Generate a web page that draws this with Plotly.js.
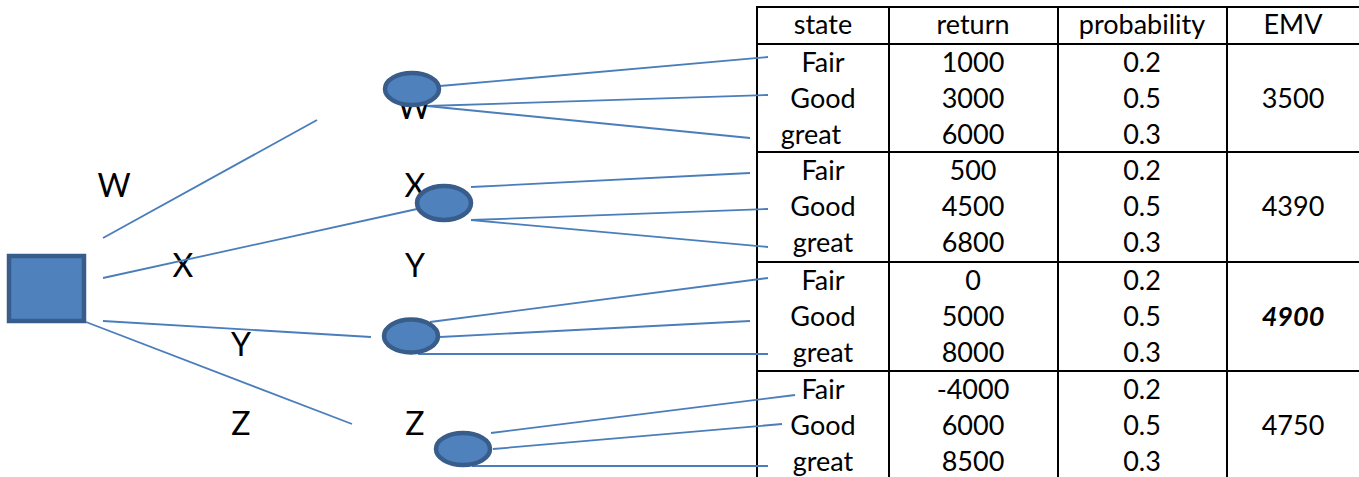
<!DOCTYPE html>
<html>
<head>
<meta charset="utf-8">
<script src="https://cdn.plot.ly/plotly-3.0.1.min.js"></script>
<style>html,body{margin:0;padding:0;background:#fff;}#chart{width:1359px;height:477px;}</style>
</head>
<body>
<div id="chart"></div>
<script>
// ---- data ----
const options = ['W', 'X', 'Y', 'Z'];
const states = ['Fair', 'Good', 'great'];
const headers = ['state', 'return', 'probability', 'EMV'];
const returnsW = [1000, 3000, 6000];
const returnsX = [500, 4500, 6800];
const returnsY = [0, 5000, 8000];
const returnsZ = [-4000, 6000, 8500];
const probabilities = [0.2, 0.5, 0.3];
const emv = [3500, 4390, 4900, 4750];
const bestOption = 'Y';

// ---- geometry (pixel space of the 1359x477 canvas) ----
const returnsAll = [returnsW, returnsX, returnsY, returnsZ];
const colX = [757, 889, 1058, 1227, 1359];
const colCenter = [823, 973, 1142, 1293];
const rowLines = [7, 44, 152, 262, 371, 477];
const groupTop = [44, 152, 262, 371];
const rowPitch = 36;
const textDrop = 21;

const decision = {x0: 9, x1: 84, y0: 256, y1: 321};
const chance = [
  {cx: 412, cy: 89, rx: 27, ry: 16},
  {cx: 444, cy: 203, rx: 27, ry: 17},
  {cx: 411, cy: 336, rx: 27, ry: 16.5},
  {cx: 463, cy: 449, rx: 27, ry: 16}
];
// first-stage branches [x0,y0,x1,y1]
const branch1 = [
  [103, 238, 317, 120],
  [103, 278, 417, 209],
  [103, 321, 371, 337],
  [86, 322, 352, 424]
];
// second-stage branches per option: [x0,y0,x1,y1] for Fair, Good, great
const branch2 = [
  [[440, 86, 768, 57], [427, 106, 768, 95], [427, 106, 750, 138]],
  [[471, 187, 750, 173], [471, 220, 768, 209], [471, 220, 768, 247]],
  [[430, 322, 768, 278], [440, 337, 750, 321], [418, 354, 768, 354]],
  [[491, 433, 795, 395], [493, 449, 782, 424], [472, 466, 768, 466]]
];
const labels1 = [[114, 189], [183, 269], [241, 348], [241, 427]];
const labels2 = [[414, 111], [415, 189], [415, 269], [415, 427]];

const blue = '#4A7EBB';
const fill = '#4F81BD';
const edge = '#385D8A';
const FONT = 'Lato, "Open Sans", sans-serif';

const shapes = [];
// table grid
rowLines.slice(0, 5).forEach(y => shapes.push({type: 'line', xref: 'x', yref: 'y', x0: colX[0] - 1, x1: colX[4], y0: y, y1: y, line: {color: '#000', width: 2}}));
colX.slice(0, 4).forEach(x => shapes.push({type: 'line', xref: 'x', yref: 'y', x0: x, x1: x, y0: rowLines[0] - 1, y1: 477, line: {color: '#000', width: 2}}));
// branches
branch1.forEach(b => shapes.push({type: 'line', x0: b[0], y0: b[1], x1: b[2], y1: b[3], line: {color: blue, width: 1.8}}));
branch2.forEach(g => g.forEach(b => shapes.push({type: 'line', x0: b[0], y0: b[1], x1: b[2], y1: b[3], line: {color: blue, width: 1.8}})));
// nodes
shapes.push({type: 'rect', x0: decision.x0, x1: decision.x1, y0: decision.y0, y1: decision.y1, fillcolor: fill, line: {color: edge, width: 4.5}});
chance.forEach(c => shapes.push({type: 'circle', x0: c.cx - c.rx, x1: c.cx + c.rx, y0: c.cy - c.ry, y1: c.cy + c.ry, fillcolor: fill, line: {color: edge, width: 4.5}}));

const traces = [];
// tree labels
traces.push({
  type: 'scatter', mode: 'text',
  x: labels1.map(p => p[0]).concat(labels2.map(p => p[0])),
  y: labels1.map(p => p[1]).concat(labels2.map(p => p[1])),
  text: options.concat(options),
  textposition: 'middle center',
  textfont: {family: FONT, size: 32, color: '#000'},
  cliponaxis: false, hoverinfo: 'skip'
});
// table header
traces.push({
  type: 'scatter', mode: 'text',
  x: colCenter, y: headers.map(() => 27), text: headers,
  textposition: 'middle center',
  textfont: {family: FONT, size: 27, color: '#000'},
  cliponaxis: false, hoverinfo: 'skip'
});
// table body
const tx = [], ty = [], tt = [];
options.forEach((opt, g) => {
  states.forEach((s, i) => {
    const y = groupTop[g] + textDrop + rowPitch * i;
    tx.push(colCenter[0] - ((g === 0 && i === 2) ? 12 : 0)); ty.push(y); tt.push(s);
    tx.push(colCenter[1]); ty.push(y); tt.push(String(returnsAll[g][i]));
    tx.push(colCenter[2]); ty.push(y); tt.push(String(probabilities[i]));
  });
  const ym = groupTop[g] + textDrop + rowPitch;
  tx.push(colCenter[3]); ty.push(ym);
  tt.push(opt === bestOption ? '<b><i>' + emv[g] + '</i></b>' : String(emv[g]));
});
traces.push({
  type: 'scatter', mode: 'text', x: tx, y: ty, text: tt,
  textposition: 'middle center',
  textfont: {family: FONT, size: 27, color: '#000'},
  cliponaxis: false, hoverinfo: 'skip'
});

const layout = {
  width: 1359, height: 477,
  margin: {l: 0, r: 0, t: 0, b: 0, pad: 0},
  paper_bgcolor: '#fff', plot_bgcolor: '#fff',
  showlegend: false,
  xaxis: {range: [0, 1359], visible: false, fixedrange: true},
  yaxis: {range: [477, 0], visible: false, fixedrange: true},
  shapes: shapes
};
Plotly.newPlot('chart', traces, layout, {staticPlot: true, displayModeBar: false});
</script>
</body>
</html>
